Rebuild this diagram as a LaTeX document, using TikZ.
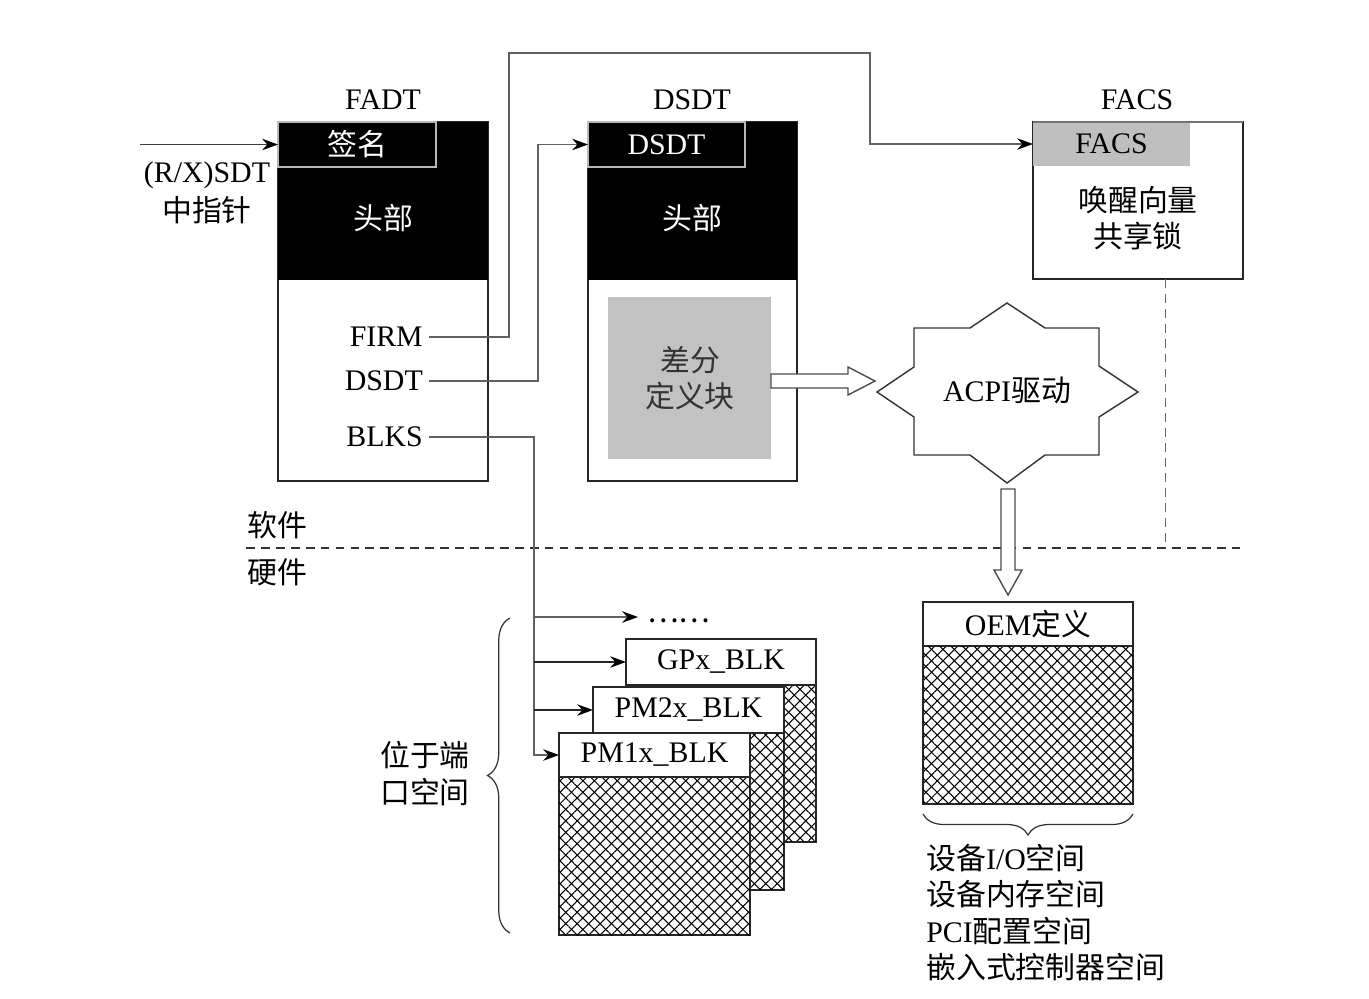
\documentclass[tikz,border=0pt]{standalone}
\usepackage{fontspec}
\setmainfont{Liberation Serif}
\newfontfamily\cjk{Noto Sans CJK SC}
\usetikzlibrary{arrows.meta,patterns.meta,decorations.pathreplacing,calc}
\begin{document}
\begin{tikzpicture}[x=0.02cm,y=-0.02cm,
  every node/.style={font=\fontsize{17}{20}\selectfont},
  conn/.style={draw=black!62,line width=1.1pt},
  arr/.style={-{Stealth[length=9pt,width=6.5pt,color=black]}},
  boxn/.style={draw=black!85,line width=1pt,inner sep=0pt,outer sep=0pt,fill=white},
  blackhdr/.style={fill=black,inner sep=0pt,outer sep=0pt},
  tabhdr/.style={draw=black!28,line width=1.2pt,fill=black,text=white,inner sep=0pt,outer sep=0pt},
  hatch/.style={preaction={fill=white},
     pattern={Lines[angle=45,distance=4.6pt,line width=0.6pt]},
     postaction={pattern={Lines[angle=-45,distance=4.6pt,line width=0.6pt]}}},
  hollow/.style={draw=black!70,line width=0.8pt,fill=white},
  dashln/.style={draw=black!80,line width=0.6pt,dash pattern=on 5pt off 3.5pt},
  brc/.style={draw=black!80,line width=0.7pt,decorate},
]
\useasboundingbox (0,0) rectangle (1369,998);

% ---------- FADT ----------
\node (fadtlbl) at (383,100) {FADT};
\node[boxn,minimum width=4.2cm,minimum height=7.18cm] (fadt) at (383,301.5) {};
\node[blackhdr,minimum width=4.2cm,minimum height=3.16cm] (fadthdr) at (383,201) {};
\node[text=white] (fadthead) at (383,218) {\cjk 头部};
\node[tabhdr,minimum width=3.16cm,minimum height=0.9cm] (fadtsig) at (357,144.5) {\cjk 签名};
\node[anchor=east] (firm) at (429,337) {FIRM};
\node[anchor=east] (dsdtptr) at (429,381) {DSDT};
\node[anchor=east] (blks) at (429,437) {BLKS};

% ---------- incoming pointer ----------
\coordinate (inptr) at (140,144.5);
\node (rxsdt) at (207,175) {(R/X)SDT};
\node (zzz) at (207,210) {\cjk 中指针};
\draw[conn,draw=black!75,arr] (inptr) -- (fadtsig.west);

% ---------- DSDT ----------
\node (dsdtlbl) at (692,100) {DSDT};
\node[boxn,minimum width=4.18cm,minimum height=7.18cm] (dsdt) at (692.5,301.5) {};
\node[blackhdr,minimum width=4.18cm,minimum height=3.16cm] (dsdthdr) at (692.5,201) {};
\node[text=white] (dsdthead) at (692,218) {\cjk 头部};
\node[tabhdr,minimum width=3.14cm,minimum height=0.9cm] (dsdtsig) at (666.5,144.5) {DSDT};
\node[fill=black!24,inner sep=0pt,minimum width=3.26cm,minimum height=3.24cm] (diffblk) at (689.5,378) {};
\node[text=black!80] (difft1) at (690,360) {\cjk 差分};
\node[text=black!80] (difft2) at (690,396) {\cjk 定义块};

% ---------- FACS ----------
\node (facslbl) at (1137,100) {FACS};
\node[boxn,minimum width=4.2cm,minimum height=3.14cm] (facs) at (1138,200.5) {};
\node[fill=black!25,inner sep=0pt,outer sep=0pt,minimum width=3.14cm,minimum height=0.86cm] (facshdr) at (1111.5,144) {FACS};
\draw[black!55,line width=1.2pt] (facs.north west) -- (facs.north east);
\node (wake) at (1138,200) {\cjk 唤醒向量};
\node (lock) at (1138,236) {\cjk 共享锁};

% ---------- connectors from FADT ----------
\draw[conn,arr] (firm.east) -| (509,53) -| (870,144) -- (facshdr.west);
\draw[conn,arr] (dsdtptr.east) -| (538,144.5) -- (dsdtsig.west);

% ---------- ACPI driver ----------
\draw[black!80,line width=0.8pt,fill=white]
  (914,328) -- (970,328) -- (1007,303) -- (1045,328) -- (1099,328) -- (1099,366)
  -- (1138,392) -- (1099,417) -- (1099,455) -- (1045,455) -- (1007,483) -- (970,455)
  -- (914,455) -- (914,417) -- (877,392) -- (914,367) -- cycle;
\node (acpi) at (1007,390) {ACPI{\cjk 驱动}};

% hollow arrow diff block -> ACPI
\draw[hollow] (771,374) -- (848,374) -- (848,367) -- (875,381) -- (848,395) -- (848,388) -- (771,388) -- cycle;

% ---------- software / hardware split ----------
\draw[dashln] (246,548) -- (1243,548);
\coordinate (facsdrop) at (1165,279);
\draw[dashln,draw=black!60,line width=0.5pt] (facsdrop) -- (1165,548);
\node (sw) at (277,525) {\cjk 软件};
\node (hw) at (277,572) {\cjk 硬件};

% hollow arrow ACPI -> OEM
\draw[hollow] (1001,489) -- (1001,570) -- (994,570) -- (1008,595) -- (1022,570) -- (1015,570) -- (1015,489) -- cycle;

% ---------- OEM ----------
\node[boxn,minimum width=4.2cm,minimum height=0.88cm] (oem) at (1028,624) {OEM{\cjk 定义}};
\node[boxn,hatch,minimum width=4.2cm,minimum height=3.16cm] (oembody) at (1028,725) {};
\draw[brc,decoration={brace,amplitude=0.42cm}] (1133,814) -- (923,814);
\node[anchor=west,inner sep=0pt] (sp1) at (926,858) {{\cjk 设备}I/O{\cjk 空间}};
\node[anchor=west,inner sep=0pt] (sp2) at (926,894) {\cjk 设备内存空间};
\node[anchor=west,inner sep=0pt] (sp3) at (926,931) {PCI{\cjk 配置空间}};
\node[anchor=west,inner sep=0pt] (sp4) at (926,967) {\cjk 嵌入式控制器空间};

% ---------- port-space blocks ----------
\node[boxn,hatch,minimum width=3.8cm,minimum height=3.14cm] (gpxb) at (721,763.5) {};
\node[boxn,minimum width=3.8cm,minimum height=0.92cm] (gpx) at (721,662) {GPx\_BLK};
\node[boxn,hatch,minimum width=3.82cm,minimum height=3.14cm] (pm2b) at (688.5,811.5) {};
\node[boxn,minimum width=3.82cm,minimum height=0.92cm] (pm2) at (688.5,710) {PM2x\_BLK};
\node[boxn,hatch,minimum width=3.82cm,minimum height=3.16cm] (pm1b) at (654.5,856) {};
\node[boxn,minimum width=3.82cm,minimum height=0.88cm] (pm1) at (654.5,755) {PM1x\_BLK};
\node[inner sep=0pt,anchor=west] (dots) at (647,621) {\cjk ……};

% BLKS connector tree
\draw[conn,arr] (blks.east) -| (534,755) -- (pm1.west);
\draw[conn,arr] (534,617) -- ($(dots.west)+(-9,-4)$);
\draw[conn,draw=black!85,arr] (534,662) -- (gpx.west);
\draw[conn,draw=black!85,arr] (534,710) -- (pm2.west);

% left brace
\draw[brc,decoration={brace,amplitude=0.45cm}] (510,933) -- (510,618);
\node (port1) at (425,755) {\cjk 位于端};
\node (port2) at (425,792) {\cjk 口空间};
\end{tikzpicture}
\end{document}
